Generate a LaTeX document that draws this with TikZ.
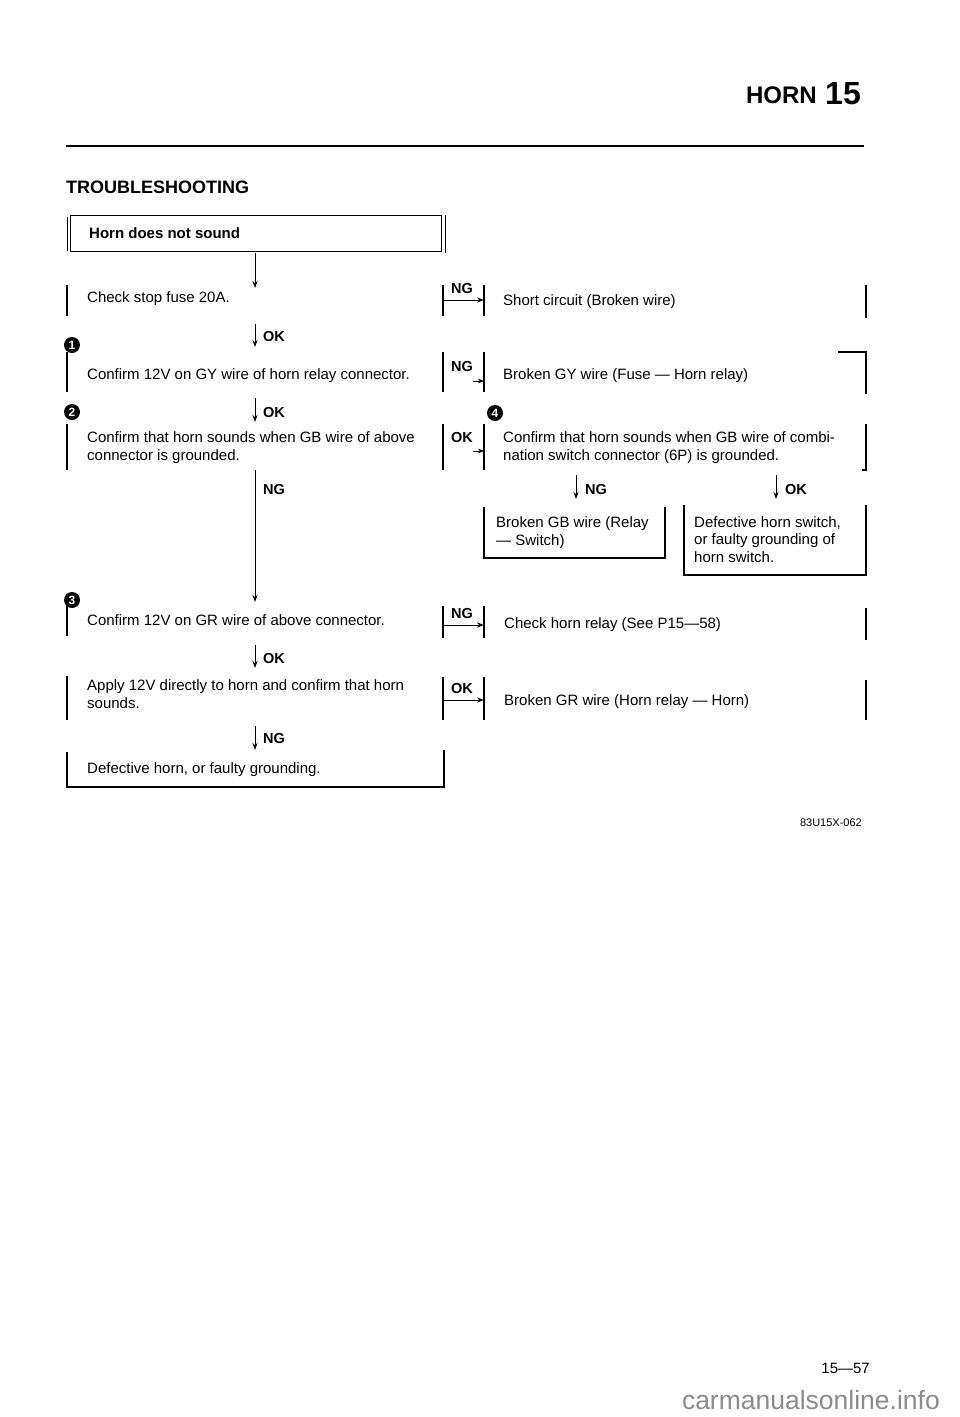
\documentclass[tikz,border=0pt]{standalone}
\usepackage{fontspec}
\setmainfont{Liberation Sans}
\usetikzlibrary{arrows.meta}
\begin{document}
\begin{tikzpicture}[x=1pt,y=-1pt,
  txt/.style={anchor=base west, inner sep=0, font=\fontsize{15}{17.2}\selectfont, align=left},
  lbl/.style={anchor=base west, inner sep=0, font=\fontsize{14.5}{16}\selectfont\bfseries},
  bar/.style={line width=1.2pt},
  flow/.style={line width=1pt, -{Stealth[length=7pt,width=5pt]}},
  tip/.style={line width=0.7pt, -{Stealth[length=6pt,width=4.5pt]}},
  num/.style={circle, fill=black, inner sep=0, minimum size=16, text=white, font=\fontsize{12}{12}\selectfont\bfseries}
]
\useasboundingbox[fill=white] (0,0) rectangle (960,1417);

% header
\node[anchor=base east, inner sep=0, font=\fontsize{24}{24}\selectfont\bfseries] (horn) at (817,103) {HORN};
\node[anchor=base west, inner sep=0, font=\fontsize{32}{32}\selectfont\bfseries] (fifteen) at (825,104) {15};
\draw[line width=2.5pt] (66,146) -- (864,146);
\node[anchor=base west, inner sep=0, font=\fontsize{18}{18}\selectfont\bfseries] (title) at (66,193) {TROUBLESHOOTING};

% start box
\draw[line width=1pt] (70,215) rectangle (441,251);
\draw[line width=1pt] (67,217) -- (67,251);
\draw[line width=1pt] (445,215) -- (445,253);
\node[txt, font=\fontsize{15}{17}\selectfont\bfseries] (start) at (89,238) {Horn does not sound};

% main column texts (multi-line nodes: position is baseline of last line)
\node[txt] (s1) at (87,302) {Check stop fuse 20A.};
\node[txt] (s2) at (87,379) {Confirm 12V on GY wire of horn relay connector.};
\node[txt] (s3) at (87,460) {Confirm that horn sounds when GB wire of above\\connector is grounded.};
\node[txt] (s4) at (87,625) {Confirm 12V on GR wire of above connector.};
\node[txt] (s5) at (87,708) {Apply 12V directly to horn and confirm that horn\\sounds.};
\node[txt] (s6) at (87,773) {Defective horn, or faulty grounding.};

% main column bars
\draw[bar] (67,285) -- (67,316);
\draw[bar] (67,352) -- (67,392);
\draw[bar] (67,424) -- (67,470);
\draw[bar] (67,606) -- (67,636);
\draw[bar] (67,676) -- (67,720);
\draw[bar] (67,752) -- (67,787) -- (444,787) -- (444,750);

% numbers
\node[num] (c1) at (72,345) {1};
\node[num] (c2) at (72,412) {2};
\node[num] (c3) at (72,600) {3};
\node[num] (c4) at (495,413) {4};

% main column arrows
\coordinate (a0) at (255,253); \coordinate (b0) at (255,288);
\coordinate (a1) at (255,324); \coordinate (b1) at (255,347);
\coordinate (a2) at (255,398); \coordinate (b2) at (255,422);
\coordinate (a3) at (255,470); \coordinate (b3) at (255,602);
\coordinate (a4) at (255,645); \coordinate (b4) at (255,668);
\coordinate (a5) at (255,726); \coordinate (b5) at (255,750);
\draw[flow] (a0) -- (b0);
\draw[flow] (a1) -- (b1);
\draw[flow] (a2) -- (b2);
\draw[flow] (a3) -- (b3);
\draw[flow] (a4) -- (b4);
\draw[flow] (a5) -- (b5);
\node[lbl] (l1) at (263,341) {OK};
\node[lbl] (l2) at (263,417) {OK};
\node[lbl] (l3) at (263,494) {NG};
\node[lbl] (l4) at (263,663) {OK};
\node[lbl] (l5) at (263,743) {NG};

% right branches: bars
\draw[bar] (443,285) -- (443,316); \draw[bar] (484,285) -- (484,316);
\draw[bar] (443,352) -- (443,392); \draw[bar] (484,352) -- (484,392);
\draw[bar] (443,424) -- (443,470); \draw[bar] (484,424) -- (484,470);
\draw[bar] (443,606) -- (443,638); \draw[bar] (484,606) -- (484,638);
\draw[bar] (443,677) -- (443,720); \draw[bar] (484,677) -- (484,720);

% right branch arrows
\coordinate (h1a) at (443,300); \coordinate (h1b) at (484,300);
\coordinate (h2a) at (473,381); \coordinate (h2b) at (484,381);
\coordinate (h3a) at (473,451); \coordinate (h3b) at (484,451);
\coordinate (h4a) at (443,625); \coordinate (h4b) at (484,625);
\coordinate (h5a) at (443,700); \coordinate (h5b) at (484,700);
\draw[flow] (h1a) -- (h1b);
\draw[tip] (h2a) -- (h2b);
\draw[tip] (h3a) -- (h3b);
\draw[flow] (h4a) -- (h4b);
\draw[flow] (h5a) -- (h5b);
\node[lbl] (r1l) at (451,293) {NG};
\node[lbl] (r2l) at (451,371) {NG};
\node[lbl] (r3l) at (451,442) {OK};
\node[lbl] (r4l) at (451,618) {NG};
\node[lbl] (r5l) at (451,693) {OK};

% right texts
\node[txt] (r1) at (503,305) {Short circuit (Broken wire)};
\node[txt] (r2) at (503,379) {Broken GY wire (Fuse --- Horn relay)};
\node[txt] (r3) at (503,460) {Confirm that horn sounds when GB wire of combi-\\nation switch connector (6P) is grounded.};
\node[txt] (r6) at (504,628) {Check horn relay (See P15---58)};
\node[txt] (r7) at (504,705) {Broken GR wire (Horn relay --- Horn)};

% right end bars
\draw[bar] (866,285) -- (866,318);
\draw[bar] (838,352) -- (866,352) -- (866,394);
\draw[bar] (866,424) -- (866,470) -- (862,470);
\draw[bar] (866,608) -- (866,640);
\draw[bar] (866,680) -- (866,720);

% sub-branch from step 4
\coordinate (d1a) at (576,475); \coordinate (d1b) at (576,499);
\coordinate (d2a) at (776,475); \coordinate (d2b) at (776,499);
\draw[flow] (d1a) -- (d1b);
\draw[flow] (d2a) -- (d2b);
\node[lbl] (d1l) at (585,494) {NG};
\node[lbl] (d2l) at (785,494) {OK};
\draw[bar] (484,507) -- (484,558) -- (665,558) -- (665,507);
\draw[bar] (684,505) -- (684,575) -- (866,575) -- (866,505);
\node[txt] (r4) at (496,545) {Broken GB wire (Relay\\--- Switch)};
\node[txt, font=\fontsize{15}{17.5}\selectfont] (r5) at (694,562) {Defective horn switch,\\or faulty grounding of\\horn switch.};

% figure code and page number
\node[anchor=base east, inner sep=0, font=\fontsize{11}{11}\selectfont] (code) at (862,826) {83U15X-062};
\node[anchor=base east, inner sep=0, font=\fontsize{15}{15}\selectfont] (page) at (870,1373) {15---57};
\node[anchor=base east, inner sep=0, text=black!45, font=\fontsize{26.5}{26.5}\selectfont] (wm) at (940,1409) {carmanualsonline.info};
\end{tikzpicture}
\end{document}
